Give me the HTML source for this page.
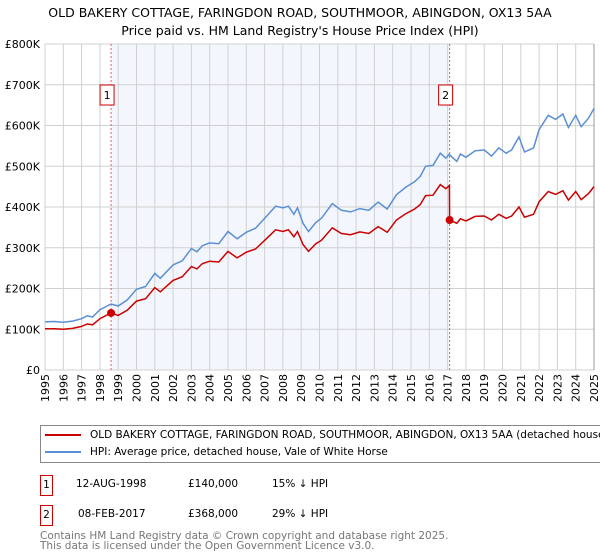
<!DOCTYPE html>
<html><head><meta charset="utf-8"><style>
body{margin:0;width:600px;height:560px;background:#fff;font-family:"DejaVu Sans","Liberation Sans",sans-serif;overflow:hidden;position:relative}
.t{position:absolute;white-space:nowrap;color:#000}
svg text{font-family:"DejaVu Sans","Liberation Sans",sans-serif}
</style></head><body>
<div class="t" style="left:0;width:600px;text-align:center;top:4px;font-size:12.5px;line-height:18px">OLD BAKERY COTTAGE, FARINGDON ROAD, SOUTHMOOR, ABINGDON, OX13 5AA<br>Price paid vs. HM Land Registry's House Price Index (HPI)</div>
<svg id="chart" width="600" height="410" style="position:absolute;left:0;top:0"></svg>
<div style="position:absolute;left:40px;top:425px;width:580px;height:36px;border:1px solid #888;font-size:10.5px">
  <div style="position:absolute;left:4px;top:3px;white-space:nowrap"><span style="display:inline-block;width:36px;height:2px;background:#cc0000;vertical-align:middle;margin-right:9px"></span>OLD BAKERY COTTAGE, FARINGDON ROAD, SOUTHMOOR, ABINGDON, OX13 5AA (detached house)</div>
  <div style="position:absolute;left:4px;top:20px;white-space:nowrap"><span style="display:inline-block;width:36px;height:2px;background:#5b8fd4;vertical-align:middle;margin-right:9px"></span>HPI: Average price, detached house, Vale of White Horse</div>
</div>
<div style="position:absolute;left:40px;top:475px;font-size:10.5px;width:560px;height:20px">
  <div style="position:absolute;left:0;top:0;width:11px;height:19px;border:1px solid #c00;text-align:center;line-height:19px">1</div>
  <div class="t" style="left:36px;top:3px">12-AUG-1998</div><div class="t" style="left:148px;top:3px">£140,000</div><div class="t" style="left:232px;top:3px">15% ↓ HPI</div>
</div>
<div style="position:absolute;left:40px;top:505px;font-size:10.5px;width:560px;height:20px">
  <div style="position:absolute;left:0;top:0;width:11px;height:19px;border:1px solid #c00;text-align:center;line-height:19px">2</div>
  <div class="t" style="left:38px;top:3px">08-FEB-2017</div><div class="t" style="left:148px;top:3px">£368,000</div><div class="t" style="left:232px;top:3px">29% ↓ HPI</div>
</div>
<div class="t" style="left:40px;top:531px;font-size:10.5px;line-height:10px;color:#777">Contains HM Land Registry data © Crown copyright and database right 2025.<br>This data is licensed under the Open Government Licence v3.0.</div>
<script>
const years=[1995,1995.5,1996,1996.5,1997,1997.3,1997.6,1998,1998.6,1999,1999.5,2000,2000.5,2001,2001.3,2002,2002.5,2003,2003.3,2003.6,2004,2004.5,2005,2005.5,2006,2006.5,2007,2007.6,2008,2008.3,2008.6,2008.8,2009.1,2009.4,2009.8,2010.1,2010.7,2011.2,2011.7,2012.2,2012.7,2013.2,2013.7,2014.2,2014.7,2015.2,2015.5,2015.8,2016.2,2016.6,2016.9,2017.1,2017.11,2017.5,2017.7,2018,2018.5,2019,2019.4,2019.8,2020.2,2020.5,2020.9,2021.2,2021.7,2022,2022.5,2022.9,2023.3,2023.6,2024,2024.3,2024.7,2025];
const hpi=[118,119,117,120,126,133,130,148,162,157,172,198,205,237,225,258,268,298,290,305,312,310,340,322,338,348,372,402,398,402,382,398,360,340,362,372,408,392,388,396,392,412,395,430,448,462,475,500,502,532,520,530,528,512,530,522,538,540,525,545,532,540,572,535,545,590,625,615,628,595,625,597,618,642];
const price=[101,101,100,102,107,113,111,126,140,134,147,169,175,202,192,220,229,254,248,261,267,265,291,275,289,297,318,344,340,344,327,340,308,291,310,318,349,335,332,339,335,352,338,368,383,395,406,428,429,455,445,453,368,360,371,366,377,378,368,382,372,378,400,375,382,413,438,431,440,417,438,418,433,450];
const yTicks=[0,100,200,300,400,500,600,700,800];
const yLabels=["£0","£100K","£200K","£300K","£400K","£500K","£600K","£700K","£800K"];
const xTicks=[1995,1996,1997,1998,1999,2000,2001,2002,2003,2004,2005,2006,2007,2008,2009,2010,2011,2012,2013,2014,2015,2016,2017,2018,2019,2020,2021,2022,2023,2024,2025];
const saleYears=[1998.61,2017.11];
const salePrices=[140,368];
const L=45,R=594,T=44,B=370;
const X=y=>L+(y-1995)/30*(R-L);
const Y=v=>B-v/800*(B-T);
const svg=document.getElementById('chart');const NS='http://www.w3.org/2000/svg';
function mk(tag,a){const e=document.createElementNS(NS,tag);for(const k in a)e.setAttribute(k,a[k]);svg.appendChild(e);return e;}
let e=mk('rect',{x:X(saleYears[0]),y:T,width:X(saleYears[1])-X(saleYears[0]),height:B-T,fill:'#f3f7fd'});


xTicks.forEach(t=>{const l=mk('line',{x1:X(t),x2:X(t),y1:T,y2:B,stroke:'#d0d0d0','stroke-width':1});


const tx=mk('text',{transform:`translate(${X(t)+4},${B+4}) rotate(-90)`,'text-anchor':'end','font-size':11,fill:'#000'});tx.textContent=t;

});
yTicks.forEach((t,i)=>{const l=mk('line',{x1:L,x2:R,y1:Y(t),y2:Y(t),stroke:'#d0d0d0','stroke-width':1});


const tx=mk('text',{x:40,y:Y(t)+4,'text-anchor':'end','font-size':11,fill:'#000'});tx.textContent=yLabels[i];

});
e=mk('line',{x1:R,x2:R,y1:T,y2:B,stroke:'#999'});
saleYears.forEach((s,i)=>{const l=mk('line',{x1:X(s),x2:X(s),y1:T,y2:B,stroke:'#e06060','stroke-dasharray':'2,2','stroke-width':1});


const r=mk('rect',{x:X(s)-11,y:85,width:14,height:20,fill:'#fff',stroke:'#c00'});


const tx=mk('text',{x:X(s)-4,y:99,'text-anchor':'middle','font-size':11});tx.textContent=i+1;

});
const pts=a=>years.map((y,i)=>X(y).toFixed(1)+','+Y(a[i]).toFixed(1)).join(' ');
e=mk('polyline',{points:pts(hpi),fill:'none',stroke:'#5b8fd4','stroke-width':1.5});


e=mk('polyline',{points:pts(price),fill:'none',stroke:'#cc0000','stroke-width':1.5});


saleYears.forEach((s,i)=>{const c=mk('circle',{cx:X(s),cy:Y(salePrices[i]),r:4,fill:'#cc0000'});

});
</script>
</body></html>
